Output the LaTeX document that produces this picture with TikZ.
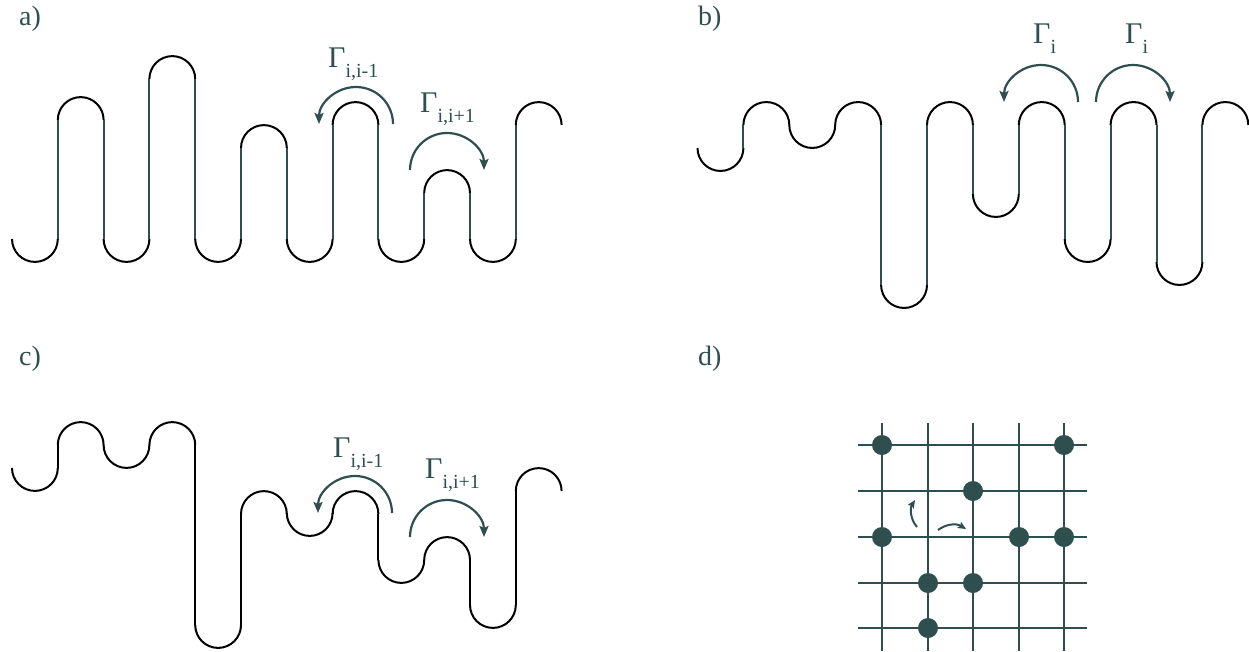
\documentclass[tikz,border=0pt]{standalone}
\usepackage{fontspec}
\setmainfont{Liberation Serif}
\usetikzlibrary{arrows.meta}
\definecolor{slate}{HTML}{2F4F4F}
\newcommand\gam[1]{{\fontsize{30}{30}\selectfont Γ}\raisebox{-10pt}{\fontsize{20}{20}\selectfont #1}}
\newcommand\chainpath[4]{%
  \pgfmathsetmacro\rr{#2/2}%
  \foreach \c [count=\j] in {#3} {%
    \pgfmathsetmacro\xl{#1+(\j-1)*#2}%
    \ifodd\j
      \draw[chainarc] (\xl,\c) arc[start angle=180,end angle=0,radius=\rr];
    \else
      \draw[chainarc] (\xl,\c) arc[start angle=180,end angle=360,radius=\rr];
    \fi
  }%
  \foreach \c [count=\j, remember=\c as \p (initially 0)] in {#3} {%
    \ifnum\j>1
      \pgfmathsetmacro\xv{#1+(\j-1)*#2}%
      \draw[chainline,#4] (\xv,\p) -- (\xv,\c);
    \fi
  }%
}
\begin{document}
\begin{tikzpicture}[x=1pt,y=-1pt,
  chainarc/.style={line width=2pt,black},
  chainline/.style={line width=2pt},
  turn/.style={line width=2.2pt,slate,-{Stealth[length=11pt,width=9pt,inset=2pt]}},
  smallturn/.style={line width=2pt,slate,-{Stealth[length=8pt,width=7pt,inset=1.5pt]}},
  gridline/.style={line width=2.2pt,slate},
  dot/.style={circle,fill=slate,inner sep=0pt,minimum size=20pt},
  panel/.style={anchor=base west,inner sep=0pt,text=slate,font=\fontsize{28}{28}\selectfont},
  glabel/.style={anchor=base west,inner sep=0pt,text=slate}]
\useasboundingbox (0,0) rectangle (1249,651);
% panel labels
\node[panel] (pa) at (19,25) {a)};
\node[panel] (pb) at (698,25) {b)};
\node[panel] (pc) at (19,365) {c)};
\node[panel] (pd) at (698,365) {d)};
% panel a
\chainpath{12}{45.8}{239,120,239,79,239,148,239,125,239,193,239,125}{slate}
\draw[turn] (393,124) arc[start angle=0,end angle=-180,radius=37];
\draw[turn] (410,170) arc[start angle=180,end angle=360,radius=37];
\node[glabel] (ga1) at (328,67) {\gam{i,i-1}};
\node[glabel] (ga2) at (420,112) {\gam{i,i+1}};
% panel b
\chainpath{697.5}{45.9}{148,125,125,125,285,125,194,125,239,125,262,125}{slate}
\draw[turn] (1078,102) arc[start angle=0,end angle=-180,radius=37];
\draw[turn] (1096,102) arc[start angle=180,end angle=360,radius=37];
\node[glabel] (gb1) at (1033,43) {\gam{i}};
\node[glabel] (gb2) at (1125,43) {\gam{i}};
% panel c
\chainpath{12}{45.8}{468,445,445,445,625,514,513,514,560,560,605,491}{black}
\draw[turn] (392,513) arc[start angle=0,end angle=-180,radius=37];
\draw[turn] (410,537) arc[start angle=180,end angle=360,radius=37];
\node[glabel] (gc1) at (333,457) {\gam{i,i-1}};
\node[glabel] (gc2) at (425,478) {\gam{i,i+1}};
% panel d
\foreach \gx in {882,928,973,1019,1064} {
  \draw[gridline] (\gx,423) -- (\gx,651);
}
\foreach \gy in {445,491,537,583,628} {
  \draw[gridline] (858,\gy) -- (1087,\gy);
}
\foreach \px/\py [count=\n] in {882/445,1064/445,973/491,882/537,1019/537,1064/537,928/583,973/583,928/628} {
  \node[dot] (d\n) at (\px,\py) {};
}
\coordinate (s1a) at (917,527);
\coordinate (s1b) at (915,500);
\coordinate (s2a) at (938,530);
\coordinate (s2b) at (966,529);
\draw[smallturn] (s1a) .. controls (910,519) and (910,508) .. (s1b);
\draw[smallturn] (s2a) .. controls (946,524) and (956,523) .. (s2b);
\end{tikzpicture}
\end{document}
